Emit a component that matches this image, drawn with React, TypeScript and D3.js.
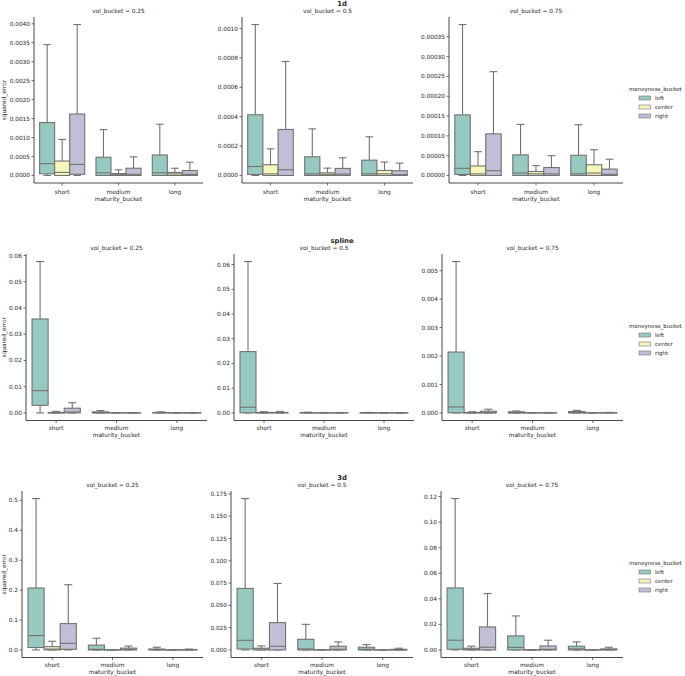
import React from "react";
import * as d3 from "d3";

const methods = ["1d", "spline", "3d"];
const volBuckets = ["0.25", "0.5", "0.75"];
const maturities = ["short", "medium", "long"];
const moneyness = ["left", "center", "right"];
const moneynessColors = ["#96cac1", "#f6f6bc", "#c1bed6"];

// each entry: [whiskerLow, q1, median, q3, whiskerHigh]; order: maturity (short, medium, long) x moneyness (left, center, right)
const stats1d_025 = [
  [0, 0.000044, 0.00031, 0.001395, 0.00345], [0, 0, 0.00008, 0.00038, 0.00095], [0, 0.00003, 0.00029, 0.00162, 0.00398],
  [0, 0, 0.00007, 0.00048, 0.00121], [0, 0, 0.00002, 0.00005, 0.00015], [0, 0, 0.00003, 0.00019, 0.00049],
  [0, 0, 0.00007, 0.00054, 0.00135], [0, 0, 0.00004, 0.00008, 0.00019], [0, 0, 0.00003, 0.00013, 0.00035],
];
const stats1d_05 = [
  [0, 0.000007, 0.000061, 0.000413, 0.001027], [0, 0, 0.000011, 0.000073, 0.000181], [0, 0, 0.000039, 0.000313, 0.000776],
  [0, 0, 0.000011, 0.000127, 0.000317], [0, 0, 0.000008, 0.000018, 0.00005], [0, 0, 0.000009, 0.000048, 0.00012],
  [0, 0, 0.000011, 0.000104, 0.000263], [0, 0, 0.000011, 0.000034, 0.000091], [0, 0, 0.000006, 0.000032, 0.000084],
];
const stats1d_075 = [
  [0, 0.0000025, 0.000018, 0.000153, 0.000381], [0, 0, 0.000004, 0.000024, 0.00006], [0, 0, 0.000012, 0.000105, 0.000262],
  [0, 0, 0.000006, 0.000052, 0.000129], [0, 0, 0.000004, 0.00001, 0.000025], [0, 0, 0.000004, 0.00002, 0.00005],
  [0, 0, 0.000004, 0.000051, 0.000128], [0, 0, 0.000006, 0.000027, 0.000065], [0, 0, 0.000003, 0.000016, 0.000041],
];
const statsSpline_025 = [
  [0, 0.0029, 0.0085, 0.0358, 0.0577], [0, 0, 0.00005, 0.0002, 0.0006], [0, 0.00005, 0.0003, 0.0018, 0.0039],
  [0, 0, 0.0001, 0.0004, 0.0009], [0, 0, 0.00002, 0.00005, 0.0001], [0, 0, 0.00002, 0.00005, 0.0001],
  [0, 0, 0.0001, 0.0002, 0.0004], [0, 0, 0.00002, 0.00005, 0.0001], [0, 0, 0.00002, 0.00005, 0.0001],
];
const statsSpline_05 = [
  [0, 0.00005, 0.0023, 0.0248, 0.0612], [0, 0, 0.00005, 0.0002, 0.0005], [0, 0, 0.0001, 0.0002, 0.0006],
  [0, 0, 0.00003, 0.0001, 0.0003], [0, 0, 0.00002, 0.00005, 0.0001], [0, 0, 0.00002, 0.00005, 0.0001],
  [0, 0, 0.00003, 0.0001, 0.0002], [0, 0, 0.00002, 0.00005, 0.0001], [0, 0, 0.00002, 0.00005, 0.0001],
];
const statsSpline_075 = [
  [0, 0.000005, 0.00021, 0.00214, 0.00532], [0, 0, 0.000005, 0.000015, 0.00004], [0, 0, 0.00001, 0.00006, 0.00013],
  [0, 0, 0.000005, 0.00004, 0.00007], [0, 0, 0.000002, 0.000005, 0.00001], [0, 0, 0.000002, 0.000006, 0.000015],
  [0, 0, 0.00001, 0.00005, 0.00009], [0, 0, 0.000002, 0.000005, 0.00001], [0, 0, 0.000002, 0.000008, 0.00002],
];
const stats3d_025 = [
  [0, 0.008, 0.048, 0.207, 0.506], [0, 0, 0.003, 0.011, 0.029], [0, 0.002, 0.022, 0.088, 0.218],
  [0, 0, 0.002, 0.016, 0.039], [0, 0, 0.0002, 0.0005, 0.001], [0, 0, 0.002, 0.006, 0.013],
  [0, 0, 0.001, 0.003, 0.009], [0, 0, 0.0001, 0.0003, 0.0007], [0, 0, 0.0003, 0.001, 0.003],
];
const stats3d_05 = [
  [0, 0.001, 0.0108, 0.069, 0.1698], [0, 0, 0.001, 0.0019, 0.0045], [0, 0, 0.0041, 0.0306, 0.0746],
  [0, 0, 0.0011, 0.0119, 0.0287], [0, 0, 0.0001, 0.0001, 0.0003], [0, 0, 0.0007, 0.0041, 0.009],
  [0, 0, 0.0007, 0.003, 0.006], [0, 0, 0.0001, 0.0001, 0.0003], [0, 0, 0.0002, 0.0007, 0.0019],
];
const stats3d_075 = [
  [0, 0.0005, 0.0076, 0.0485, 0.1184], [0, 0, 0.0005, 0.0013, 0.0029], [0, 0, 0.0021, 0.018, 0.0441],
  [0, 0, 0.002, 0.011, 0.0266], [0, 0, 0.00005, 0.0001, 0.0002], [0, 0, 0.0005, 0.0031, 0.0076],
  [0, 0, 0.0008, 0.0029, 0.0063], [0, 0, 0.00005, 0.0001, 0.0002], [0, 0, 0.0003, 0.0008, 0.0021],
];

const yTicks1d = [
  [0, 0.0005, 0.001, 0.0015, 0.002, 0.0025, 0.003, 0.0035, 0.004],
  [0, 0.0002, 0.0004, 0.0006, 0.0008, 0.001],
  [0, 0.00005, 0.0001, 0.00015, 0.0002, 0.00025, 0.0003, 0.00035],
];
const yTicksSpline = [
  [0, 0.01, 0.02, 0.03, 0.04, 0.05, 0.06],
  [0, 0.01, 0.02, 0.03, 0.04, 0.05, 0.06],
  [0, 0.001, 0.002, 0.003, 0.004, 0.005],
];
const yTicks3d = [
  [0, 0.1, 0.2, 0.3, 0.4, 0.5],
  [0, 0.025, 0.05, 0.075, 0.1, 0.125, 0.15, 0.175],
  [0, 0.02, 0.04, 0.06, 0.08, 0.1, 0.12],
];
const yTickDigits = [[4, 4, 5], [2, 2, 3], [1, 3, 2]];

const rowStats = [
  [stats1d_025, stats1d_05, stats1d_075],
  [statsSpline_025, statsSpline_05, statsSpline_075],
  [stats3d_025, stats3d_05, stats3d_075],
];
const rowTicks = [yTicks1d, yTicksSpline, yTicks3d];

// layout
const rowLayout = [
  { y0: 17, y1: 183, xs: [[34, 203], [242, 413], [449, 623]], legendY: 89, tickOff: 8.6, labOff: 16.2 },
  { y0: 254, y1: 420.5, xs: [[26, 207], [234, 414], [442, 623]], legendY: 326, tickOff: 7, labOff: 14.8 },
  { y0: 491, y1: 657.5, xs: [[22, 203], [231, 413], [441, 623]], legendY: 563, tickOff: 7, labOff: 14.8 },
];

const FONT = "DejaVu Sans, sans-serif";
const TEXT = "#262626";
const EDGE = "#727272";
const SPINE = "#333333";
const FS = 5.8;

function Panel({ stats, ticks, digits, x0, x1, y0, y1, title, showYLabel, tickOff, labOff }) {
  const hi = d3.max(stats, (s) => s[4]);
  const lo = d3.min(stats, (s) => s[0]);
  const pad = (hi - lo) * 0.05;
  const y = d3.scaleLinear().domain([lo - pad, hi + pad]).range([y1, y0]);
  const xb = d3.scaleBand().domain(maturities).range([x0, x1]).paddingInner(0.2).paddingOuter(0.1);
  const hb = d3.scaleBand().domain(moneyness).range([0, xb.bandwidth()]);
  const fmt = d3.format(`.${digits}f`);
  const bw = hb.bandwidth();
  return (
    <g>
      <text x={(x0 + x1) / 2} y={y0 - 3.8} fontSize={FS} fill={TEXT} textAnchor="middle" fontFamily={FONT}>
        {title}
      </text>
      {stats.map((s, i) => {
        const m = maturities[Math.floor(i / 3)];
        const h = moneyness[i % 3];
        const bx = xb(m) + hb(h);
        const cx = bx + bw / 2;
        const cw = bw / 2;
        return (
          <g key={i} stroke={EDGE} strokeWidth={1.1}>
            <line x1={cx} x2={cx} y1={y(s[3])} y2={y(s[4])} />
            <line x1={cx} x2={cx} y1={y(s[1])} y2={y(s[0])} />
            <line x1={cx - cw / 2} x2={cx + cw / 2} y1={y(s[4])} y2={y(s[4])} />
            <line x1={cx - cw / 2} x2={cx + cw / 2} y1={y(s[0])} y2={y(s[0])} />
            <rect x={bx} width={bw} y={y(s[3])} height={Math.max(0, y(s[1]) - y(s[3]))} fill={moneynessColors[i % 3]} />
            <line x1={bx} x2={bx + bw} y1={y(s[2])} y2={y(s[2])} />
          </g>
        );
      })}
      <line x1={x0} x2={x0} y1={y0} y2={y1} stroke={SPINE} strokeWidth={0.9} />
      <line x1={x0} x2={x1} y1={y1} y2={y1} stroke={SPINE} strokeWidth={0.9} />
      {ticks.map((t, i) => (
        <g key={i}>
          <line x1={x0 - 2.5} x2={x0} y1={y(t)} y2={y(t)} stroke={SPINE} strokeWidth={0.7} />
          <text x={x0 - 4} y={y(t)} dy="0.35em" fontSize={FS} fill={TEXT} textAnchor="end" fontFamily={FONT}>
            {fmt(t)}
          </text>
        </g>
      ))}
      {maturities.map((m) => {
        const cx = xb(m) + xb.bandwidth() / 2;
        return (
          <g key={m}>
            <line x1={cx} x2={cx} y1={y1} y2={y1 + 2.5} stroke={SPINE} strokeWidth={0.7} />
            <text x={cx} y={y1 + tickOff} dy="0.35em" fontSize={FS} fill={TEXT} textAnchor="middle" fontFamily={FONT}>
              {m}
            </text>
          </g>
        );
      })}
      <text x={(x0 + x1) / 2} y={y1 + labOff} dy="0.35em" fontSize={FS} fill={TEXT} textAnchor="middle" fontFamily={FONT}>
        maturity_bucket
      </text>
      {showYLabel && (
        <text
          transform={`translate(${4},${(y0 + y1) / 2}) rotate(-90)`}
          dy="0.35em"
          fontSize={FS}
          fill={TEXT}
          textAnchor="middle"
          fontFamily={FONT}
        >
          squared_error
        </text>
      )}
    </g>
  );
}

export default function App() {
  return (
    <svg
      width={685}
      height={676}
      style={{ position: "absolute", left: 0, top: 0, background: "#fff" }}
      xmlns="http://www.w3.org/2000/svg"
    >
      <rect width={685} height={676} fill="#fff" />
      {methods.map((method, r) => {
        const L = rowLayout[r];
        return (
          <g key={method}>
            <text x={342} y={L.y0 - 11} fontSize={6.8} fontWeight="bold" fill={TEXT} textAnchor="middle" fontFamily={FONT}>
              {method}
            </text>
            {volBuckets.map((vb, c) => (
              <Panel
                key={vb}
                stats={rowStats[r][c]}
                ticks={rowTicks[r][c]}
                digits={yTickDigits[r][c]}
                x0={L.xs[c][0]}
                x1={L.xs[c][1]}
                y0={L.y0}
                y1={L.y1}
                tickOff={L.tickOff}
                labOff={L.labOff}
                title={`vol_bucket = ${vb}`}
                showYLabel={c === 0}
              />
            ))}
            <text x={629} y={L.legendY} dy="0.35em" fontSize={5.5} fill={TEXT} fontFamily={FONT}>
              moneyness_bucket
            </text>
            {moneyness.map((m, i) => (
              <g key={m}>
                <rect x={639} y={L.legendY + 9 * (i + 1) - 2} width={11.5} height={4} fill={moneynessColors[i]} stroke={EDGE} strokeWidth={0.6} />
                <text x={655} y={L.legendY + 9 * (i + 1)} dy="0.35em" fontSize={5.5} fill={TEXT} fontFamily={FONT}>
                  {m}
                </text>
              </g>
            ))}
          </g>
        );
      })}
    </svg>
  );
}
